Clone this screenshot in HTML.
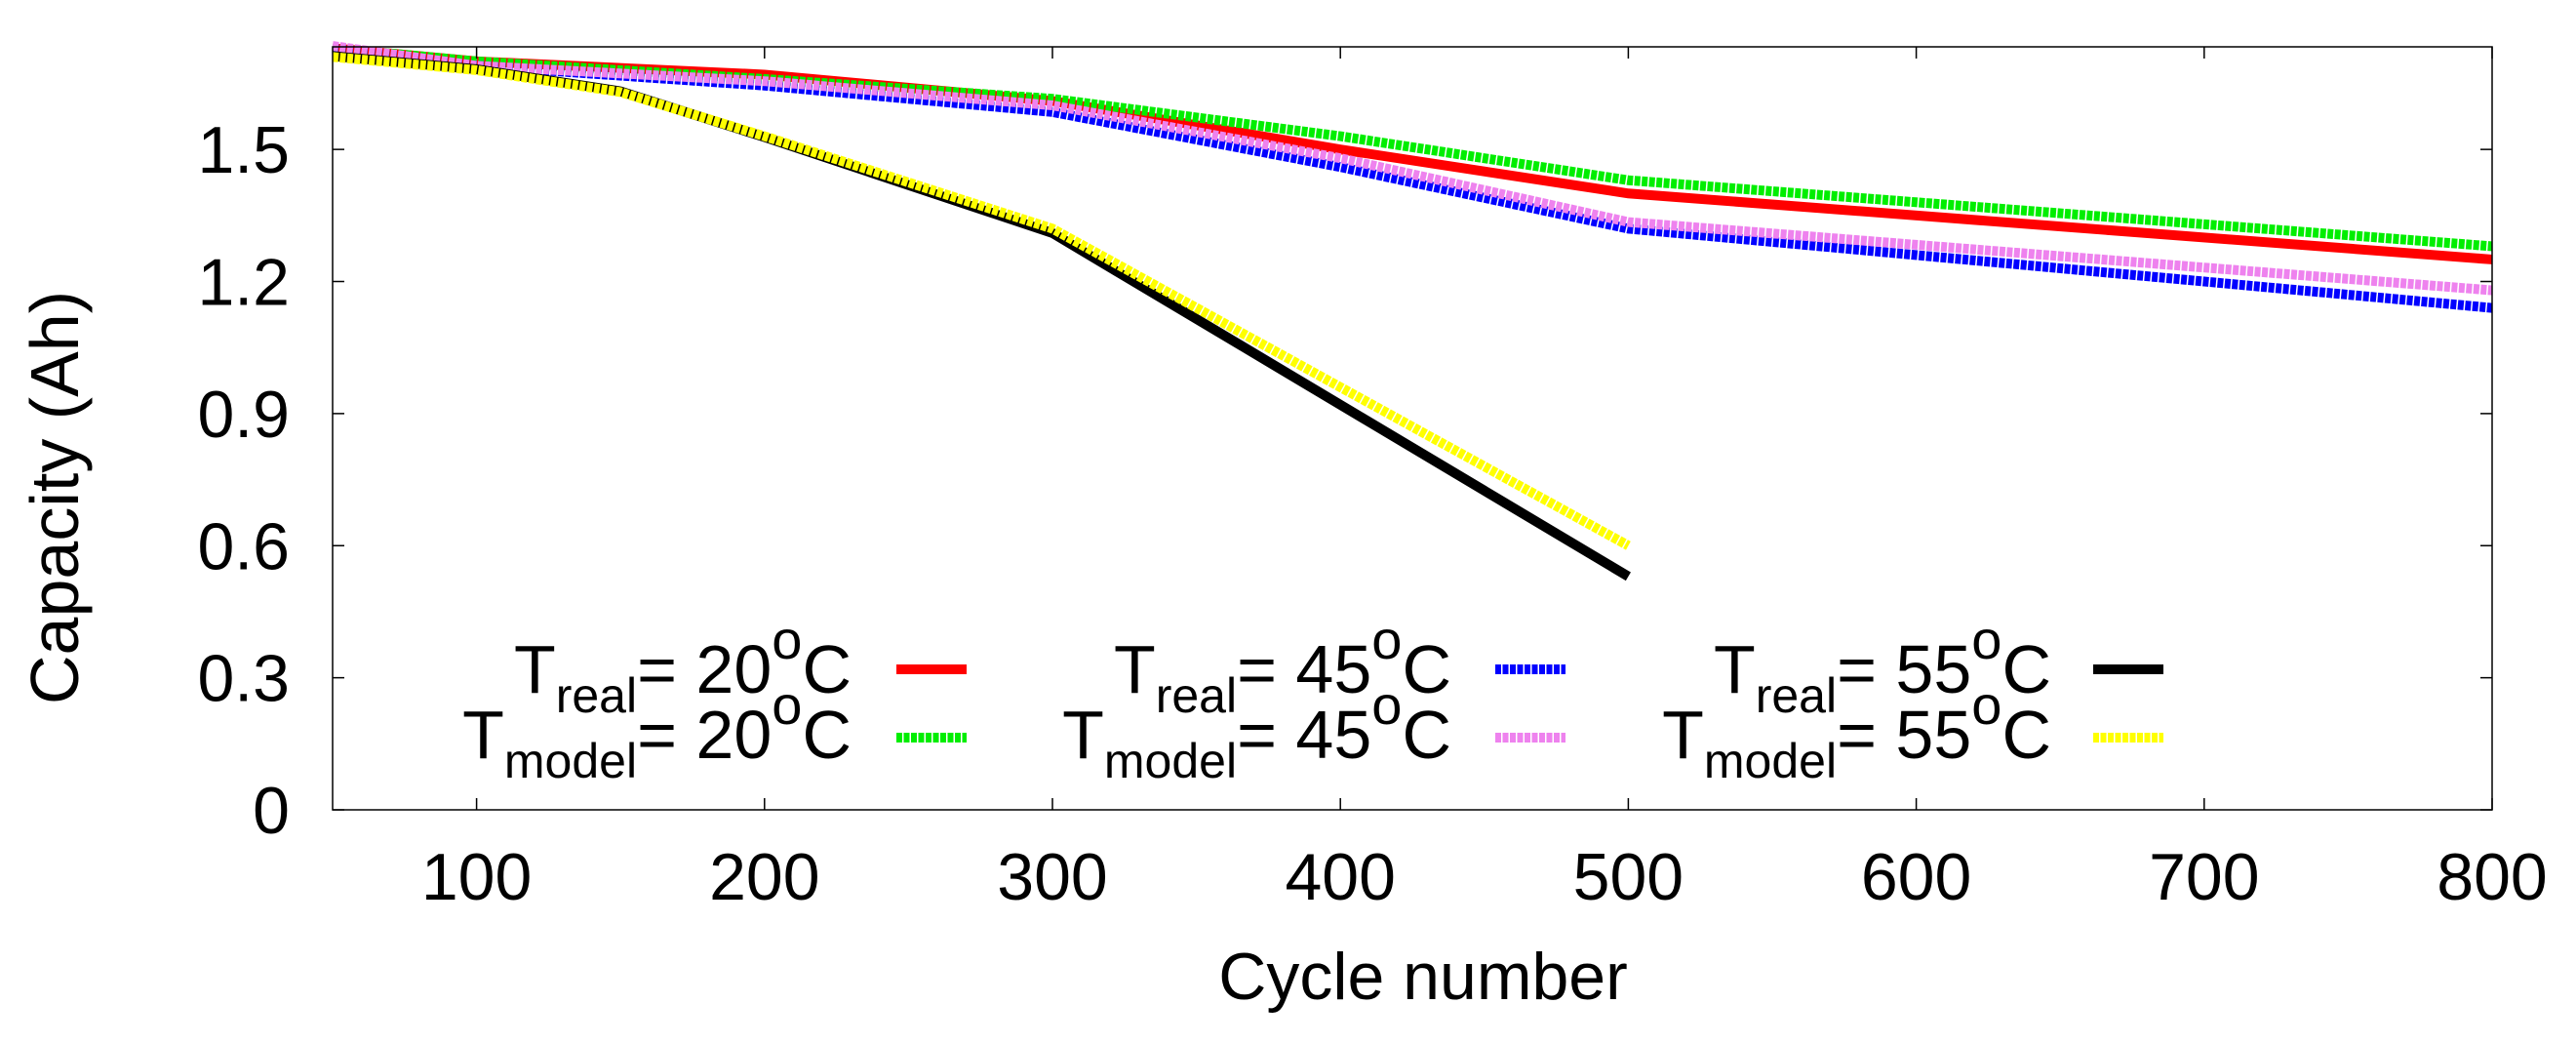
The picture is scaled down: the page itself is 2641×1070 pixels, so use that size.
<!DOCTYPE html>
<html><head><meta charset="utf-8">
<style>html,body{margin:0;padding:0;background:#fff}svg{display:block}text{font-family:"Liberation Sans",sans-serif;fill:#000}</style>
</head><body>
<svg id="chart" width="2641" height="1070" viewBox="0 0 2641 1070" xmlns="http://www.w3.org/2000/svg">
<g id="series"></g>
<rect x="341" y="48" width="2214" height="782" fill="none" stroke="#000" stroke-width="1.5"/>
<g id="ticks"></g>
<text x="1459" y="1024" font-size="68" text-anchor="middle">Cycle number</text>
<text transform="translate(80,510) rotate(-90)" font-size="70" text-anchor="middle">Capacity (Ah)</text>
<g id="legend"></g>
</svg>
<script>
const xTicks=[100,200,300,400,500,600,700,800];
const yTicks=[0,0.3,0.6,0.9,1.2,1.5];
const yTickLabels=["0","0.3","0.6","0.9","1.2","1.5"];
const cyclesA=[50,100,200,300,400,500,800];
const real20=[1.73,1.70,1.67,1.61,1.50,1.40,1.25];
const model20=[1.73,1.70,1.66,1.615,1.53,1.43,1.28];
const real45=[1.73,1.69,1.645,1.585,1.46,1.32,1.14];
const model45=[1.735,1.69,1.655,1.60,1.48,1.335,1.18];
const cyclesB=[50,100,150,200,300,500];
const real55=[1.712,1.682,1.632,1.528,1.31,0.53];
const model55=[1.71,1.68,1.63,1.53,1.32,0.60];
const NS="http://www.w3.org/2000/svg";
const X0=341,X1=2555,Y0=830,Y1=48,xMin=50,xMax=800,yMin=0,yMax=1.733;
const sx=v=>X0+(v-xMin)/(xMax-xMin)*(X1-X0);
const sy=v=>Y0-(v-yMin)/(yMax-yMin)*(Y0-Y1);
function mk(tag,attrs,parent){const e=document.createElementNS(NS,tag);for(const k in attrs)e.setAttribute(k,attrs[k]);parent.appendChild(e);return e;}
const ticks=document.getElementById('ticks');
xTicks.forEach(t=>{
  const x=sx(t);
  const l1=mk('line',{x1:x,x2:x,y1:Y0,y2:Y0-12,stroke:'#000','stroke-width':1.5},ticks);
  
  
  const l2=mk('line',{x1:x,x2:x,y1:Y1,y2:Y1+12,stroke:'#000','stroke-width':1.5},ticks);
  
  
  const tx=mk('text',{x:x,y:922,'font-size':68,'text-anchor':'middle'},ticks);
  tx.textContent=t;
  
  
});
yTicks.forEach((t,i)=>{
  const y=sy(t);
  const l1=mk('line',{x1:X0,x2:X0+12,y1:y,y2:y,stroke:'#000','stroke-width':1.5},ticks);
  
  
  const l2=mk('line',{x1:X1,x2:X1-12,y1:y,y2:y,stroke:'#000','stroke-width':1.5},ticks);
  
  
  const tx=mk('text',{x:297,y:y+24,'font-size':68,'text-anchor':'end'},ticks);
  tx.textContent=yTickLabels[i];
  
  
});
const styles=[
 {c:'#ff0000',d:null,xs:cyclesA,ys:real20},
 {c:'#00ee00',d:'6,1.5',xs:cyclesA,ys:model20},
 {c:'#0000ff',d:'6,1.5',xs:cyclesA,ys:real45},
 {c:'#ee82ee',d:'6,1.5',xs:cyclesA,ys:model45},
 {c:'#000000',d:null,xs:cyclesB,ys:real55},
 {c:'#ffff00',d:'6,1.5',xs:cyclesB,ys:model55}
];
const sg=document.getElementById('series');
styles.forEach((s,i)=>{
  const pts=s.xs.map((x,j)=>sx(x)+','+sy(s.ys[j])).join(' ');
  const a={points:pts,fill:'none',stroke:s.c,'stroke-width':10,'stroke-linejoin':'miter'};
  if(s.d)a['stroke-dasharray']=s.d;
  const p=mk('polyline',a,sg);
  
  
});
const lg=document.getElementById('legend');
const cols=[[873,919],[1488,1533],[2103,2146]];
const temps=["20","20","45","45","55","55"];
styles.forEach((s,i)=>{
  const col=cols[Math.floor(i/2)],row=i%2;
  const ly=row?756:686, ty=row?777:710;
  const t=mk('text',{x:col[0],y:ty,'font-size':70,'text-anchor':'end'},lg);
  
  
  const sub=row?'model':'real';
  t.innerHTML='T<tspan font-size="50" dy="20">'+sub+'</tspan><tspan dy="-20">= '+temps[i]+'</tspan><tspan font-size="56" dy="-35">o</tspan><tspan dy="35">C</tspan>';
  const a={x1:col[1],x2:col[1]+72,y1:ly,y2:ly,stroke:s.c,'stroke-width':10};
  if(s.d)a['stroke-dasharray']=s.d;
  const l=mk('line',a,lg);
  
  
});
</script>
</body></html>
